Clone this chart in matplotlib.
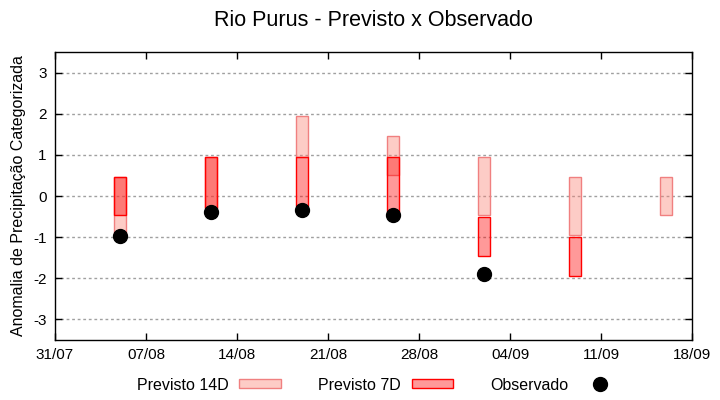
import matplotlib
matplotlib.use("Agg")
import matplotlib.pyplot as plt
import matplotlib.dates as mdates
from matplotlib.patches import Patch
from matplotlib.lines import Line2D
import numpy as np
import datetime as dt

plt.rcParams['font.family'] = ['Liberation Sans', 'DejaVu Sans']

# Data
dates = ["2024-08-05", "2024-08-12", "2024-08-19", "2024-08-26", "2024-09-02", "2024-09-09", "2024-09-16"]
p14_low = [-0.95, -0.30, 0.95, 0.50, -0.45, -0.95, -0.45]
p14_high = [0.45, 0.95, 1.95, 1.45, 0.95, 0.45, 0.45]
p7_low = [-0.45, -0.30, -0.25, -0.40, -1.45, -1.95, np.nan]
p7_high = [0.45, 0.95, 0.95, 0.95, -0.52, -1.00, np.nan]
observed = [-0.97, -0.40, -0.35, -0.47, -1.90, np.nan, np.nan]
yticks = [-3, -2, -1, 0, 1, 2, 3]
xtick_start = "2024-07-31"
xtick_end = "2024-09-18"

d = [dt.datetime.strptime(s, "%Y-%m-%d") for s in dates]
p14_low = np.array(p14_low); p14_high = np.array(p14_high)
p7_low = np.array(p7_low); p7_high = np.array(p7_high)

fig = plt.figure(figsize=(7.2, 4.0), dpi=100)
ax = fig.add_axes([55/720, 60/400, (692-55)/720, (340-52)/400])

c14_face = (250/255, 128/255, 114/255, 0.4)
c14_edge = '#f08080'
c7_face = (1.0, 0.0, 0.0, 0.4)
c7_edge = '#ff0000'

w = 0.85
ax.bar(d, p14_high - p14_low, bottom=p14_low, width=w, color=c14_face,
       edgecolor=c14_edge, linewidth=1.0, zorder=2)
m = ~np.isnan(p7_low)
ax.bar([x for x, k in zip(d, m) if k], (p7_high - p7_low)[m], bottom=p7_low[m], width=w,
       color=c7_face, edgecolor=c7_edge, linewidth=1.0, zorder=3)
ax.plot(d, observed, 'o', color='black', markersize=10, linestyle='none', zorder=4)

x0 = dt.datetime.strptime(xtick_start, "%Y-%m-%d")
x1 = dt.datetime.strptime(xtick_end, "%Y-%m-%d")
ax.set_xlim(x0, x1)
ax.set_xticks([x0 + dt.timedelta(days=7*i) for i in range(8)])
ax.xaxis.set_major_formatter(mdates.DateFormatter("%d/%m"))
ax.set_ylim(-3.5, 3.5)
ax.set_yticks(yticks)
ax.set_yticklabels([str(v) for v in yticks])

ax.yaxis.grid(True, linestyle=(0, (2, 2)), color='#a0a0a0', linewidth=1.0, zorder=0)
ax.set_axisbelow(True)
ax.tick_params(direction='in', top=True, right=True, length=5, width=1,
               labelsize=11, pad=6, colors='black')
for s in ax.spines.values():
    s.set_linewidth(1.0)

ax.set_ylabel("Anomalia de Precipitação Categorizada", fontsize=11.5, labelpad=5)
fig.text(373/720, 1-20/400, "Rio Purus - Previsto x Observado", fontsize=15.5,
         ha='center', va='center')

handles = [
    Patch(facecolor=c14_face, edgecolor=c14_edge, linewidth=1.0),
    Patch(facecolor=c7_face, edgecolor=c7_edge, linewidth=1.0),
    Line2D([], [], marker='o', color='black', markersize=10, linestyle='none'),
]
labels = ["Previsto 14D", "Previsto 7D", "Observado"]
fig.legend(handles, labels, loc='center', bbox_to_anchor=(379/720, 1-385/400),
           ncol=3, frameon=False, markerfirst=False, fontsize=11.5,
           handlelength=2.6, handleheight=0.5, handletextpad=0.65, columnspacing=2.35)

fig.savefig("out.png", dpi=100)
